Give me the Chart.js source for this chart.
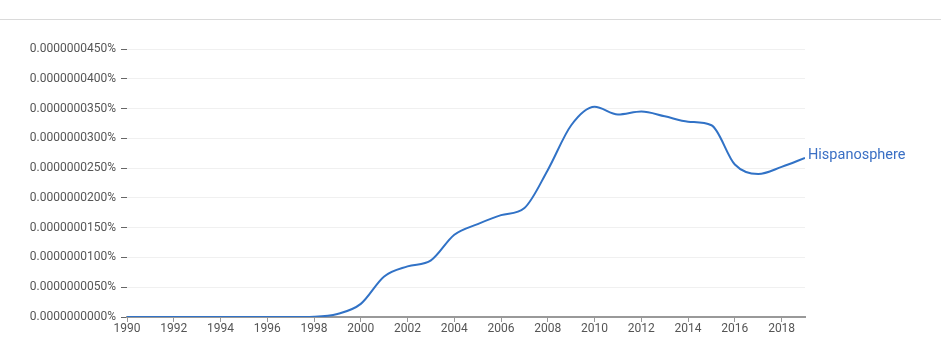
<!DOCTYPE html>
<html>
<head>
<meta charset="utf-8">
<script src="https://cdn.jsdelivr.net/npm/chart.js@4"></script>
<style>
  html, body { margin: 0; padding: 0; background: #fff; }
  #wrap { position: relative; width: 941px; height: 353px; }
  #topline { position: absolute; left: 0; top: 19px; width: 941px; height: 1px; background: #dadada; }
  #chart { position: absolute; left: 0; top: 0; }
</style>
</head>
<body>
<div id="wrap">
  <div id="topline"></div>
  <canvas id="chart" width="941" height="353"></canvas>
</div>
<script>
// values in units of 0.0000000001 %
const years = [1990, 1991, 1992, 1993, 1994, 1995, 1996, 1997, 1998, 1999,
               2000, 2001, 2002, 2003, 2004, 2005, 2006, 2007, 2008, 2009,
               2010, 2011, 2012, 2013, 2014, 2015, 2016, 2017, 2018, 2019];
const hispanosphere = [0, 0, 0, 0, 0, 0, 0, 0, 0.5, 5,
                       22, 68, 85, 95, 138, 156, 171, 183, 247, 322,
                       353, 340, 345, 337, 328, 322, 256, 240, 252, 267];
const seriesName = 'Hispanosphere';
const yTicks = [0, 50, 100, 150, 200, 250, 300, 350, 400, 450];

const lineColor = '#3172c6';

const endLabel = {
    id: 'endLabel',
    afterDatasetsDraw: (chart) => {
        const meta = chart.getDatasetMeta(0);
        const pt = meta.data[meta.data.length - 1];
        const ctx = chart.ctx;
        ctx.save();
        ctx.font = '14.5px Roboto';
        ctx.fillStyle = '#3a6fc4';
        ctx.textAlign = 'left';
        ctx.textBaseline = 'middle';
        ctx.fillText(seriesName, pt.x + 3, pt.y - 3);
        ctx.restore();
    }
};

new Chart(document.getElementById('chart'), {
    type: 'line',
    data: {
        datasets: [{
            label: seriesName,
            data: years.map((y, i) => ({ x: y, y: hispanosphere[i] })),
            borderColor: lineColor,
            borderWidth: 2,
            pointRadius: 0,
            cubicInterpolationMode: 'monotone',
            fill: false
        }]
    },
    options: {
        responsive: false,
        animation: false,
        layout: { padding: { left: 0, top: 49, right: 136, bottom: 0 } },
        plugins: {
            legend: { display: false },
            tooltip: { enabled: false }
        },
        scales: {
            x: {
                type: 'linear',
                min: 1990,
                max: 2019,
                afterBuildTicks: (scale) => {
                    scale.ticks = years.filter(y => y % 2 === 0).map(v => ({ value: v }));
                },
                afterFit: (scale) => { scale.height = 36; },
                ticks: {
                    callback: (v) => String(v),
                    color: '#555',
                    font: { family: 'Roboto', size: 12 },
                    padding: 0,
                    maxRotation: 0,
                    autoSkip: false
                },
                grid: {
                    drawOnChartArea: false,
                    drawTicks: true,
                    tickLength: 5,
                    tickColor: '#999',
                    color: '#999'
                },
                border: { display: true, color: '#999', width: 2 }
            },
            y: {
                min: 0,
                max: 450,
                afterBuildTicks: (scale) => {
                    scale.ticks = yTicks.map(v => ({ value: v }));
                },
                afterFit: (scale) => { scale.width = 127; },
                ticks: {
                    callback: (v) => (v / 1e10).toFixed(10) + '%',
                    color: '#555',
                    font: { family: 'Roboto', size: 12 },
                    padding: 5
                },
                grid: {
                    color: '#f0f0f0',
                    tickColor: '#666',
                    tickLength: 6,
                    drawTicks: true
                },
                border: { display: false }
            }
        }
    },
    plugins: [endLabel]
});
</script>
</body>
</html>
